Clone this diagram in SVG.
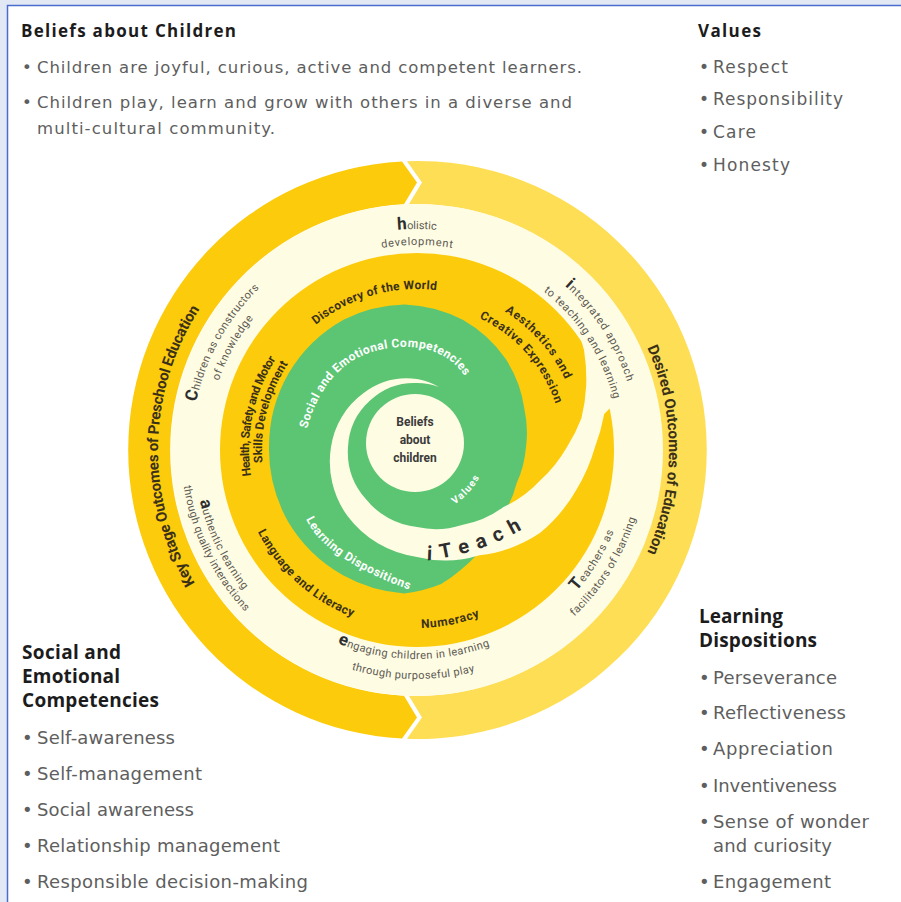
<svg xmlns="http://www.w3.org/2000/svg" xmlns:xlink="http://www.w3.org/1999/xlink" width="901" height="902" viewBox="0 0 901 902">
<style>
.body{font-family:"DejaVu Sans","Open Sans",sans-serif;fill:#5e5e5e;}
.head{font-family:"Open Sans","DejaVu Sans",sans-serif;font-weight:bold;fill:#1c1c1c;}
.rl{font-family:Roboto,"DejaVu Sans",sans-serif;font-weight:bold;fill:#3b3118;}
.cr{font-family:Roboto,"DejaVu Sans",sans-serif;font-size:11px;fill:#5c5a52;}
.big{font-size:17px;font-weight:bold;fill:#2d2d2d;}
.wt{font-family:Roboto,"DejaVu Sans",sans-serif;font-weight:bold;fill:#ffffff;}
</style>
<defs>
<path id="c259cw" d="M676,450 A259,259 0 1 1 158,450 A259,259 0 1 1 676,450"/>
<path id="c252cw" d="M669,450 A252,252 0 1 1 165,450 A252,252 0 1 1 669,450"/>
<path id="c221cw" d="M638,450 A221,221 0 1 1 196,450 A221,221 0 1 1 638,450"/>
<path id="c205cw" d="M622,450 A205,205 0 1 1 212,450 A205,205 0 1 1 622,450"/>
<path id="c203cw" d="M620,450 A203,203 0 1 1 214,450 A203,203 0 1 1 620,450"/>
<path id="c226cw" d="M643,450 A226,226 0 1 1 191,450 A226,226 0 1 1 643,450"/>
<path id="c210cw" d="M627,450 A210,210 0 1 1 207,450 A210,210 0 1 1 627,450"/>
<path id="c161cw" d="M578,450 A161,161 0 1 1 256,450 A161,161 0 1 1 578,450"/>
<path id="c164cw" d="M581,450 A164,164 0 1 1 253,450 A164,164 0 1 1 581,450"/>
<path id="c146cw" d="M563,450 A146,146 0 1 1 271,450 A146,146 0 1 1 563,450"/>
<path id="c168cw" d="M585,450 A168,168 0 1 1 249,450 A168,168 0 1 1 585,450"/>
<path id="c155cw" d="M572,450 A155,155 0 1 1 262,450 A155,155 0 1 1 572,450"/>
<path id="c213ccw" d="M630,450 A213,213 0 1 0 204,450 A213,213 0 1 0 630,450"/>
<path id="c229ccw" d="M646,450 A229,229 0 1 0 188,450 A229,229 0 1 0 646,450"/>
<path id="c209ccw" d="M626,450 A209,209 0 1 0 208,450 A209,209 0 1 0 626,450"/>
<path id="c223ccw" d="M640,450 A223,223 0 1 0 194,450 A223,223 0 1 0 640,450"/>
<path id="c236ccw" d="M653,450 A236,236 0 1 0 181,450 A236,236 0 1 0 653,450"/>
<path id="c179ccw" d="M596,450 A179,179 0 1 0 238,450 A179,179 0 1 0 596,450"/>
<path id="c178ccw" d="M595,450 A178,178 0 1 0 239,450 A178,178 0 1 0 595,450"/>
<path id="c73ccw" d="M488,443 A73,73 0 1 0 342,443 A73,73 0 1 0 488,443"/>
<path id="pSocial" d="M307,429 Q330,345 411,347 Q450,350 468,381"/>
<path id="pLearn" d="M306,519 Q325,560 413,591"/>
<path id="pITeach" d="M427.7,560.5 Q480.3,554 525.7,527.1"/>
</defs>

<rect width="901" height="902" fill="#ffffff"/>
<g id="frame">
<rect x="0" y="0" width="901" height="5" fill="#e3e8f5"/>
<rect x="0" y="0" width="7" height="902" fill="#e3e8f5"/>
<path d="M7.5,902 V5.5 H901" stroke="#4a6ccc" stroke-width="1.5" fill="none"/>
</g>

<g id="ring-key-stage">
<path d="M402,161.4 L417,182.5 L404,204.3 A246,246 0 0 0 404,695.7 L417,717.5 L402,738.6 A289,289 0 0 1 402,161.4 Z" fill="#fccb0c"/>
<g transform="rotate(1 417 450)"><text class="rl" font-size="15" text-anchor="middle"><textPath xlink:href="#c259cw" startOffset="50%" textLength="289">Key Stage Outcomes of Preschool Education</textPath></text></g>
</g>
<g id="ring-desired">
<path d="M407,161.2 L422,182.5 L409,204.1 A246,246 0 1 1 409,695.9 L422,717.5 L407,738.8 A289,289 0 1 0 407,161.2 Z" fill="#fede55"/>
<g transform="rotate(-180 417 450)"><text class="rl" font-size="15" text-anchor="middle"><textPath xlink:href="#c252cw" startOffset="50%" textLength="211">Desired Outcomes of Education</textPath></text></g>
</g>

<g id="ring-principles">
<circle cx="417" cy="450" r="246" fill="#fffce4"/>
</g>
<g id="ring-learning-areas">
<circle cx="417" cy="450" r="197" fill="#fccb0c"/>
</g>

<g id="green-spiral">
<path d="M475.2,556.5 A127,127 0 0 1 461.5,569.2 A134,134 0 0 1 441.2,583.9 A143,143 0 0 1 404.2,593.4 A148,148 0 0 1 343,575.2 A148,148 0 0 1 288,521.5 A148,148 0 0 1 269,447 A148,148 0 0 1 288.8,373 A147,147 0 0 1 343.5,319.7 A145,145 0 0 1 404.6,304.6 A139,139 0 0 1 463.2,320.1 A130,130 0 0 1 505.4,358.6 A119,119 0 0 1 524.2,408 A111,111 0 0 1 526,447 A107,107 0 0 1 516.6,483.3 A108,108 0 0 1 501.3,517.7 A114,114 0 0 1 484.7,543.6 Z" fill="#5bc573"/>
</g>

<g id="iteach-band">
<path d="M439,387 A66,66 0 0 0 417,379 A72,72 0 0 0 363.3,393.3 A81,81 0 0 0 331,447 A92,92 0 0 0 347.7,516.3 A104,104 0 0 0 417,557 A117,117 0 0 0 479.5,555.3 A137,137 0 0 0 539.9,533.1 A157,157 0 0 0 576.4,489.7 A171,171 0 0 0 595,447 A184,184 0 0 0 604.2,414 L612.6,405.4 A205,205 0 0 0 574,315.2 L584,350 A186,186 0 0 1 586.2,385.4 A173,173 0 0 1 581.5,418 A158,158 0 0 1 567,447 A139,139 0 0 1 540.6,480.1 A116,116 0 0 1 503,507.3 A97,97 0 0 1 462,524.9 A85,85 0 0 1 417,527 A76,76 0 0 1 365.4,498.6 A71,71 0 0 1 348,447 A67,67 0 0 1 370.3,400.3 A65,65 0 0 1 417,383 A64,64 0 0 1 439,387 Z" fill="#fffce4"/>
<text class="rl" font-size="20" style="fill:#2d2d2d"><textPath xlink:href="#pITeach" textLength="100"><tspan font-style="italic">i</tspan>Teach</textPath></text>
</g>

<g id="center">
<circle cx="415" cy="443" r="49" fill="#fffce4"/>
<text class="rl" font-size="12" text-anchor="middle" x="415" y="426" style="fill:#3a3a3a">Beliefs</text>
<text class="rl" font-size="12" text-anchor="middle" x="415" y="444" style="fill:#3a3a3a">about</text>
<text class="rl" font-size="12" text-anchor="middle" x="415" y="462" style="fill:#3a3a3a">children</text>
</g>

<g id="label-values-inner">
<g transform="rotate(-137.3 415 443)"><text class="wt" font-size="10" text-anchor="middle"><textPath xlink:href="#c73ccw" startOffset="50%" textLength="37">Values</textPath></text></g>
</g>
<g id="label-sec">
<text class="wt" font-size="12"><textPath xlink:href="#pSocial" textLength="208">Social and Emotional Competencies</textPath></text>
</g>
<g id="label-ld">
<text class="wt" font-size="12"><textPath xlink:href="#pLearn" textLength="128">Learning Dispositions</textPath></text>
</g>

<g id="label-discovery">
<g transform="rotate(74 417 450)"><text class="rl" font-size="12" text-anchor="middle"><textPath xlink:href="#c161cw" startOffset="50%" textLength="129">Discovery of the World</textPath></text></g>
</g>
<g id="label-aesthetics">
<g transform="rotate(138.4 417 450)"><text class="rl" font-size="12" text-anchor="middle"><textPath xlink:href="#c164cw" startOffset="50%" textLength="92">Aesthetics and</textPath></text>
<text class="rl" font-size="12" text-anchor="middle"><textPath xlink:href="#c146cw" startOffset="50%" textLength="118">Creative Expression</textPath></text></g>
</g>
<g id="label-health">
<g transform="rotate(12 417 450)"><text class="rl" font-size="12" text-anchor="middle"><textPath xlink:href="#c168cw" startOffset="50%" textLength="122">Health, Safety and Motor</textPath></text></g>
<g transform="rotate(14.5 417 450)"><text class="rl" font-size="12" text-anchor="middle"><textPath xlink:href="#c155cw" startOffset="50%" textLength="104">Skills Development</textPath></text></g>
</g>
<g id="label-language">
<g transform="rotate(-48 417 450)"><text class="rl" font-size="12" text-anchor="middle"><textPath xlink:href="#c179ccw" startOffset="50%" textLength="130">Language and Literacy</textPath></text></g>
</g>
<g id="label-numeracy">
<g transform="rotate(-101 417 450)"><text class="rl" font-size="12" text-anchor="middle"><textPath xlink:href="#c178ccw" startOffset="50%" textLength="60">Numeracy</textPath></text></g>
</g>

<g id="label-holistic">
<g transform="rotate(90 417 450)"><text class="cr" text-anchor="middle"><textPath xlink:href="#c221cw" startOffset="50%"><tspan class="big">h</tspan>olistic</textPath></text>
<text class="cr" text-anchor="middle"><textPath xlink:href="#c205cw" startOffset="50%" textLength="71">development</textPath></text></g>
</g>
<g id="label-integrated">
<g transform="rotate(147 417 450)"><text class="cr" text-anchor="middle"><textPath xlink:href="#c221cw" startOffset="50%" textLength="116"><tspan class="big">i</tspan>ntegrated approach</textPath></text>
<text class="cr" text-anchor="middle"><textPath xlink:href="#c203cw" startOffset="50%" textLength="131">to teaching and learning</textPath></text></g>
</g>
<g id="label-teachers">
<g transform="rotate(-148 417 450)"><text class="cr" text-anchor="middle"><textPath xlink:href="#c213ccw" startOffset="50%" textLength="71"><tspan class="big">T</tspan>eachers as</textPath></text>
<text class="cr" text-anchor="middle"><textPath xlink:href="#c229ccw" startOffset="50%" textLength="117">facilitators of learning</textPath></text></g>
</g>
<g id="label-engaging">
<g transform="rotate(-89 417 450)"><text class="cr" text-anchor="middle"><textPath xlink:href="#c209ccw" startOffset="50%" textLength="156"><tspan class="big">e</tspan>ngaging children in learning</textPath></text>
<text class="cr" text-anchor="middle"><textPath xlink:href="#c229ccw" startOffset="50%" textLength="125">through purposeful play</textPath></text></g>
</g>
<g id="label-authentic">
<g transform="rotate(-26 417 450)"><text class="cr" text-anchor="middle"><textPath xlink:href="#c223ccw" startOffset="50%" textLength="100"><tspan class="big">a</tspan>uthentic learning</textPath></text>
<text class="cr" text-anchor="middle"><textPath xlink:href="#c236ccw" startOffset="50%" textLength="142">through quality interactions</textPath></text></g>
</g>
<g id="label-children">
<g transform="rotate(29 417 450)"><text class="cr" text-anchor="middle"><textPath xlink:href="#c226cw" startOffset="50%" textLength="132"><tspan class="big">C</tspan>hildren as constructors</textPath></text>
<text class="cr" text-anchor="middle"><textPath xlink:href="#c210cw" startOffset="50%" textLength="72">of knowledge</textPath></text></g>
</g>

<g id="box-beliefs">
<text class="head" x="21" y="37" font-size="17" textLength="215">Beliefs about Children</text>
<text class="body" font-size="16.5"><tspan x="22" y="73">•</tspan><tspan x="37" y="73" textLength="545">Children are joyful, curious, active and competent learners.</tspan></text>
<text class="body" font-size="16.5"><tspan x="22" y="108">•</tspan><tspan x="37" y="108" textLength="535">Children play, learn and grow with others in a diverse and</tspan></text>
<text class="body" font-size="16.5" x="37" y="134" textLength="238">multi-cultural community.</text>
</g>
<g id="box-values">
<text class="head" x="698" y="37" font-size="17" textLength="63">Values</text>
<text class="body" font-size="17"><tspan x="699" y="73">•</tspan><tspan x="713" y="73" textLength="75">Respect</tspan></text>
<text class="body" font-size="17"><tspan x="699" y="105">•</tspan><tspan x="713" y="105" textLength="130">Responsibility</tspan></text>
<text class="body" font-size="17"><tspan x="699" y="138">•</tspan><tspan x="713" y="138" textLength="43">Care</tspan></text>
<text class="body" font-size="17"><tspan x="699" y="171">•</tspan><tspan x="713" y="171" textLength="77">Honesty</tspan></text>
</g>
<g id="box-sec">
<text class="head" font-size="19"><tspan x="22" y="659" textLength="99">Social and</tspan><tspan x="22" y="683" textLength="98">Emotional</tspan><tspan x="22" y="707" textLength="137">Competencies</tspan></text>
<text class="body" font-size="18"><tspan x="22" y="744">•</tspan><tspan x="37" y="744" textLength="138">Self-awareness</tspan></text>
<text class="body" font-size="18"><tspan x="22" y="780">•</tspan><tspan x="37" y="780" textLength="165">Self-management</tspan></text>
<text class="body" font-size="18"><tspan x="22" y="816">•</tspan><tspan x="37" y="816" textLength="157">Social awareness</tspan></text>
<text class="body" font-size="18"><tspan x="22" y="852">•</tspan><tspan x="37" y="852" textLength="243">Relationship management</tspan></text>
<text class="body" font-size="18"><tspan x="22" y="888">•</tspan><tspan x="37" y="888" textLength="271">Responsible decision-making</tspan></text>
</g>
<g id="box-ld">
<text class="head" font-size="19"><tspan x="699" y="623" textLength="84">Learning</tspan><tspan x="699" y="647" textLength="118">Dispositions</tspan></text>
<text class="body" font-size="18"><tspan x="699" y="684">•</tspan><tspan x="713" y="684" textLength="124">Perseverance</tspan></text>
<text class="body" font-size="18"><tspan x="699" y="719">•</tspan><tspan x="713" y="719" textLength="133">Reflectiveness</tspan></text>
<text class="body" font-size="18"><tspan x="699" y="755">•</tspan><tspan x="713" y="755" textLength="120">Appreciation</tspan></text>
<text class="body" font-size="18"><tspan x="699" y="792">•</tspan><tspan x="713" y="792" textLength="124">Inventiveness</tspan></text>
<text class="body" font-size="18"><tspan x="699" y="828">•</tspan><tspan x="713" y="828" textLength="156">Sense of wonder</tspan></text>
<text class="body" font-size="18" x="713" y="852" textLength="119">and curiosity</text>
<text class="body" font-size="18"><tspan x="699" y="888">•</tspan><tspan x="713" y="888" textLength="118">Engagement</tspan></text>
</g>
<g id="connectors"/>
</svg>
